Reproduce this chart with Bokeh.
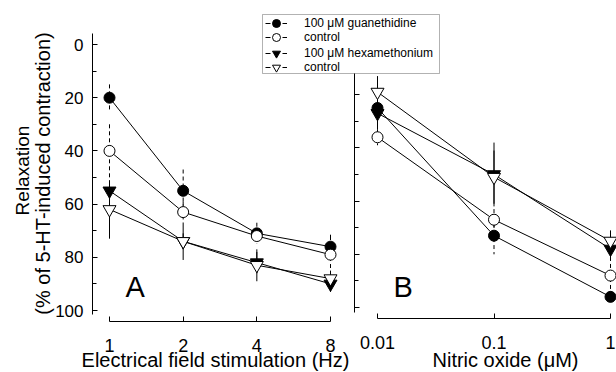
import math
import numpy as np
from bokeh.plotting import figure
from bokeh.models import (Range1d, FixedTicker, Legend, LegendItem, Label,
                          CustomJSTickFormatter, BoxAnnotation)
from bokeh.layouts import row
from bokeh.embed import file_html
from bokeh.resources import INLINE

FONT = "Liberation Sans"

# ---------------- data ----------------
freq_hz = [1, 2, 4, 8]
guan_A = [20, 55, 71, 76]
guan_A_err = [5, 8, 4, 4.5]
ctrl1_A = [40, 63, 72, 79]
ctrl1_A_err = [10, 4, 2, 7]
hexa_A = [55, 74, 82, 90]
hexa_A_err = [3, 7, 4, 3]
ctrl2_A = [62, 74, 83, 88]
ctrl2_A_err = [11, 3, 6, 3]

no_uM = [0.01, 0.1, 1]
guan_B = [25, 73, 96]
guan_B_err = [8, 7, 2]
ctrl1_B = [36, 67, 88]
ctrl1_B_err = [3, 4, 7]
hexa_B = [27, 50, 78]
hexa_B_err = [6, 12, 4]
ctrl2_B = [19, 51, 75]
ctrl2_B_err = [6, 10, 4]

y_ticks = [0, 20, 40, 60, 80, 100]
y_minor = [10, 30, 50, 70, 90]
series_labels = ["100 \u03bcM guanethidine", "control",
                 "100 \u03bcM hexamethonium", "control"]
x_title_A = "Electrical field stimulation (Hz)"
x_title_B = "Nitric oxide (\u03bcM)"
y_title_1 = "Relaxation"
y_title_2 = "(% of 5-HT-induced contraction)"

# ---------------- styles ----------------
markers = ["circle", "circle", "inverted_triangle", "inverted_triangle"]
fills = ["black", "white", "black", "white"]
sizes = [11, 11, 13, 13]
err_dash = ["4 3", "4 3", "solid", "solid"]

series_A = [(guan_A, guan_A_err), (ctrl1_A, ctrl1_A_err),
            (hexa_A, hexa_A_err), (ctrl2_A, ctrl2_A_err)]
series_B = [(guan_B, guan_B_err), (ctrl1_B, ctrl1_B_err),
            (hexa_B, hexa_B_err), (ctrl2_B, ctrl2_B_err)]

fmt = CustomJSTickFormatter(code="return tick.toString()")
H = 372
PXU = 2.66   # pixels per y unit
BASE_SHIFT = 0.37  # empirical baseline correction (fraction of font size)

# ---- panel A pixel geometry (page coordinates) ----
A_W = 445
A_X1, A_X8 = 109, 330
kA = (A_X8 - A_X1) / math.log2(8)
A_Y0 = 44


def XA(px):
    return 2 ** ((px - A_X1) / kA)


def YA(py):
    return (py - A_Y0) / PXU


# ---- panel B pixel geometry ----
B_LEFT = 255
B_W = 616 - B_LEFT
B_X1, B_X3 = 377, 610
kB = (B_X3 - B_X1) / 2.0
B_Y0 = 41


def XB(px):
    return 10 ** (-2 + (px - B_X1) / kB)


def YB(py):
    return (py - B_Y0) / PXU


def make_fig(w, xr, yr, extra=None):
    kw = dict(width=w, height=H, x_axis_type="log", x_range=xr, y_range=yr,
              output_backend="svg", toolbar_location=None,
              min_border_left=0, min_border_right=0, min_border_top=0,
              min_border_bottom=0, outline_line_color=None)
    if extra:
        kw.update(extra)
    p = figure(**kw)
    p.title = None
    p.xgrid.visible = False
    p.ygrid.visible = False
    return p


def style_x(p, ticks, loc):
    xa = p.xaxis[0]
    xa.fixed_location = loc
    xa.ticker = FixedTicker(ticks=ticks, minor_ticks=[])
    xa.formatter = fmt
    xa.bounds = (min(ticks), max(ticks))
    xa.major_tick_in = 5
    xa.major_tick_out = 0
    xa.minor_tick_line_color = None
    xa.axis_line_color = "black"
    xa.major_tick_line_color = "black"
    xa.major_label_text_font = FONT
    xa.major_label_text_font_size = "18px"
    xa.major_label_text_color = "black"
    xa.major_label_standoff = 17


def style_y(p, loc, bounds, show_labels, ticks, minor):
    ya = p.yaxis[0]
    ya.fixed_location = loc
    ya.ticker = FixedTicker(ticks=ticks, minor_ticks=minor)
    ya.bounds = bounds
    ya.major_tick_in = 5
    ya.major_tick_out = 0
    ya.minor_tick_in = 4
    ya.minor_tick_out = 0
    ya.axis_line_color = "black"
    ya.major_tick_line_color = "black"
    ya.minor_tick_line_color = "black"
    ya.major_label_text_font = FONT
    ya.major_label_text_font_size = "17px"
    ya.major_label_standoff = 9
    ya.major_label_orientation = "horizontal"
    ya.major_label_text_color = "black" if show_labels else None


def draw_series(p, xs, series):
    rs = []
    for (vals, errs) in series:
        p.line(xs, vals, line_color="black", line_width=1)
    for i, (vals, errs) in enumerate(series):
        v = np.array(vals, dtype=float)
        e = np.array(errs, dtype=float)
        p.segment(x0=xs, y0=v - e, x1=xs, y1=v + e, line_color="black",
                  line_width=1, line_dash=err_dash[i])
    for i, (vals, errs) in enumerate(series):
        r = p.scatter(xs, vals, marker=markers[i], size=sizes[i],
                      fill_color=fills[i], line_color="black", line_width=1)
        rs.append(r)
    return rs


def text_label(p, x, y, text, size, align="left", angle=0.0):
    p.add_layout(Label(x=x, y=y, text=text, text_font=FONT, text_font_size=f"{size}px",
                       text_align=align, text_baseline="alphabetic",
                       text_color="black", angle=angle))


# ---------------- panel A ----------------
pA = make_fig(A_W, Range1d(XA(0), XA(A_W)), Range1d(YA(H), YA(0)))
style_x(pA, freq_hz, YA(321))
style_y(pA, XA(92), (-4, 101.5), True, y_ticks, y_minor)
rsA = draw_series(pA, freq_hz, series_A)
text_label(pA, XA(125), YA(297 - BASE_SHIFT * 29), "A", 29)
text_label(pA, XA(215), YA(367 - BASE_SHIFT * 20), x_title_A, 20, align="center")
text_label(pA, XA(29 - BASE_SHIFT * 19), YA(170), y_title_1, 19, align="center",
           angle=math.pi / 2)
text_label(pA, XA(50 - BASE_SHIFT * 20), YA(173), y_title_2, 20, align="center",
           angle=math.pi / 2)

# legend box + two interleaved legends (rows 1,3 and rows 2,4)
pA.add_layout(BoxAnnotation(left=XA(262), right=XA(439), top=YA(14), bottom=YA(73),
                            fill_color="white", fill_alpha=1.0,
                            line_color="black", line_width=1, level="annotation"))
dash_r = pA.line(x=[np.nan], y=[np.nan], line_color="black", line_width=1,
                 line_dash="5 12")
for start, top in ((0, 13), (1, 27)):
    idx = [start, start + 2]
    items = [LegendItem(label=series_labels[i], renderers=[dash_r, rsA[i]]) for i in idx]
    lg = Legend(items=items, location=(265, H - (top + 50)),
                border_line_color=None, background_fill_alpha=0.0,
                padding=0, margin=0, spacing=10, glyph_width=22, glyph_height=20,
                label_height=20, label_standoff=17, label_text_font=FONT,
                label_text_font_size="12px", label_text_baseline="middle",
                label_text_color="black")
    pA.add_layout(lg, "center")

# ---------------- panel B ----------------
pB = make_fig(B_W, Range1d(XB(B_LEFT), XB(616)), Range1d(YB(H), YB(0)),
              extra=dict(background_fill_color=None, border_fill_color=None,
                         margin=(0, 0, 0, -(A_W - B_LEFT))))
style_x(pB, no_uM, YB(318))
b_low = YB(73)
style_y(pB, XB(354), (b_low, 102), False,
        [t for t in y_ticks if t >= b_low], [t for t in y_minor if t >= b_low])
draw_series(pB, no_uM, series_B)
text_label(pB, XB(393), YB(297 - BASE_SHIFT * 29), "B", 29)
text_label(pB, XB(505), YB(367 - BASE_SHIFT * 20), x_title_B, 20, align="center")

layout = row(pA, pB)
open("out.html", "w").write(file_html(layout, INLINE))
